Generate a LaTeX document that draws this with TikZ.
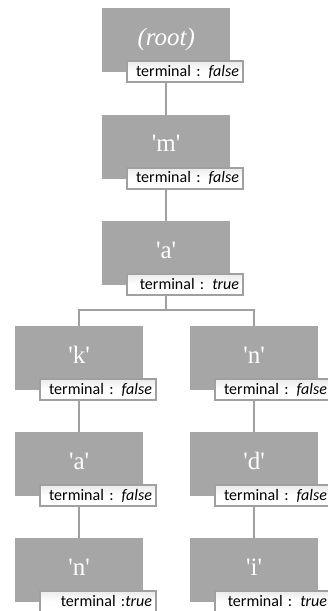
\documentclass[tikz,border=0pt]{standalone}
\usepackage{fontspec}
\setmainfont{Liberation Serif}
\newfontfamily\tagfont{Carlito}
\usetikzlibrary{calc}
\definecolor{boxgray}{HTML}{A6A6A6}
\definecolor{linegray}{HTML}{A0A0A0}
\newcommand{\q}{\textquotesingle}
\tikzset{
  trienode/.style={rectangle, fill=boxgray, draw=none, inner sep=0pt,
    minimum width=128pt, minimum height=64pt, anchor=north west},
  letter/.style={anchor=base, inner sep=0pt, text=white,
    font=\fontsize{25}{29}\selectfont},
  flagbox/.style={rectangle, draw=linegray, line width=2pt,
    top color=black!8, bottom color=white, middle color=white,
    minimum width=116pt, minimum height=21pt, text width=108pt,
    align=right, inner xsep=4pt, inner ysep=0pt, anchor=north west,
    text height=10.5pt, text depth=1pt,
    font=\tagfont\fontsize{16}{19}\selectfont},
  conn/.style={draw=linegray, line width=2.2pt}
}
\begin{document}
\begin{tikzpicture}[x=1pt, y=-1pt]
\useasboundingbox (0,0) rectangle (328,611);
\fill[white] (0,0) rectangle (328,611);

% boxes
\node[trienode] (root) at (102,8) {};
\node[trienode] (m)    at (102,114.5) {};
\node[trienode] (a)    at (102,221) {};
\node[trienode] (k)    at (15,326) {};
\node[trienode] (ka)   at (15,432) {};
\node[trienode] (kn)   at (15,538) {};
\node[trienode] (n)    at (190,326) {};
\node[trienode] (nd)   at (190,432) {};
\node[trienode] (ni)   at (190,538) {};

% characters
\node[letter] (roott) at ($(root.north)+(0,37)$) {\textit{(root)}};
\node[letter] (mt)  at ($(m.north)+(0,37)$)  {\q m\q};
\node[letter] (at)  at ($(a.north)+(0,37)$)  {\q a\q};
\node[letter] (kt)  at ($(k.north)+(0,37)$)  {\q k\q};
\node[letter] (kat) at ($(ka.north)+(0,37)$) {\q a\q};
\node[letter] (knt) at ($(kn.north)+(0,37)$) {\q n\q};
\node[letter] (nt)  at ($(n.north)+(0,37)$)  {\q n\q};
\node[letter] (ndt) at ($(nd.north)+(0,37)$) {\q d\q};
\node[letter] (nit) at ($(ni.north)+(0,37)$) {\q i\q};

% terminal flags
\node[flagbox] (rootl) at ($(root.north west)+(24,52)$) {terminal : \textit{false}};
\node[flagbox] (ml)  at ($(m.north west)+(24,52)$)  {terminal : \textit{false}};
\node[flagbox] (al)  at ($(a.north west)+(24,52)$)  {terminal : \textit{true}};
\node[flagbox] (kl)  at ($(k.north west)+(24,52)$)  {terminal : \textit{false}};
\node[flagbox] (kal) at ($(ka.north west)+(24,52)$) {terminal : \textit{false}};
\node[flagbox] (knl) at ($(kn.north west)+(24,52)$) {terminal :\textit{true}};
\node[flagbox] (nl)  at ($(n.north west)+(24,52)$)  {terminal : \textit{false}};
\node[flagbox] (ndl) at ($(nd.north west)+(24,52)$) {terminal : \textit{false}};
\node[flagbox] (nil) at ($(ni.north west)+(24,52)$) {terminal : \textit{true}};

% connectors
\draw[conn] (root.south |- rootl.south) -- (m.north);
\draw[conn] (m.south |- ml.south) -- (a.north);
\coordinate (fork) at ($(a.south |- al.south)+(0,14)$);
\draw[conn] (a.south |- al.south) -- (fork);
\draw[conn] (k.north) |- (fork) -| (n.north);
\draw[conn] (k.south |- kl.south) -- (ka.north);
\draw[conn] (ka.south |- kal.south) -- (kn.north);
\draw[conn] (n.south |- nl.south) -- (nd.north);
\draw[conn] (nd.south |- ndl.south) -- (ni.north);
\end{tikzpicture}
\end{document}
